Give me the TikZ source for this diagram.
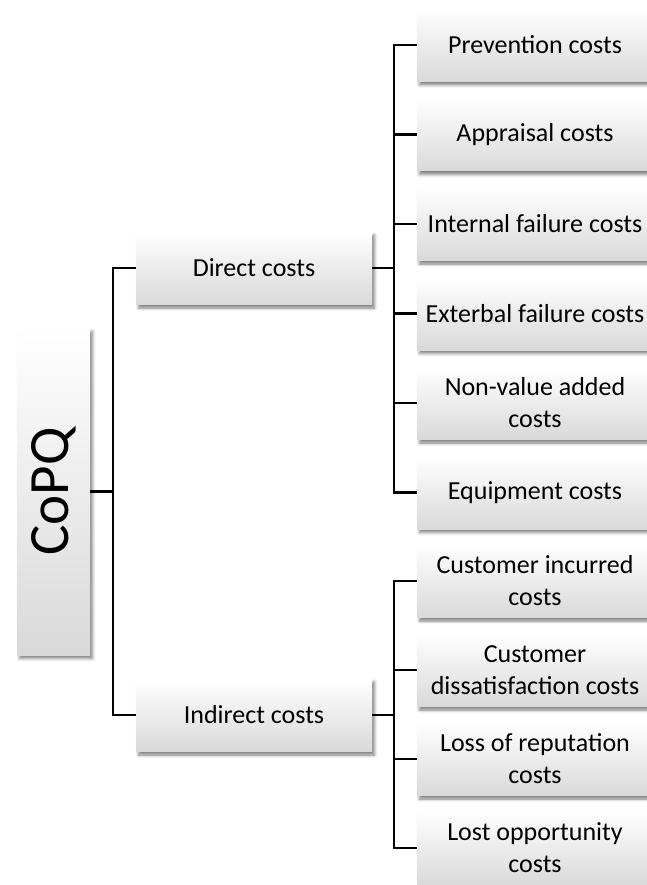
\documentclass[tikz,border=0pt]{standalone}
\usepackage{fontspec}
\setmainfont{Carlito}
\usetikzlibrary{shadows.blur}
\begin{document}
\begin{tikzpicture}[x=1pt,y=-1pt,
  costbox/.style={rectangle, inner sep=2pt, align=center,
    minimum width=236pt, minimum height=73pt,
    top color=white, middle color=white, bottom color=black!15,
    blur shadow={shadow xshift=2.5pt, shadow yshift=-3.5pt,
      shadow blur radius=3pt, shadow opacity=50},
    font=\fontsize{26}{32}\selectfont},
  rootbox/.style={costbox, minimum width=73pt, minimum height=327pt,
    font=\fontsize{57}{60}\selectfont},
  link/.style={draw=black, line width=2.2pt}]
\useasboundingbox (0,0) rectangle (646,885);

% root and first level
\node[rootbox] (copq) at (53.5,491.5) {\rotatebox{90}{CoPQ}};
\node[costbox] (direct) at (254,268) {Direct costs};
\node[costbox] (indirect) at (254,715) {Indirect costs};

% direct cost items
\node[costbox] (prev) at (535,45) {Prevention costs};
\node[costbox] (appr) at (535,134.5) {Appraisal costs};
\node[costbox] (intf) at (535,224) {Internal failure costs};
\node[costbox] (extf) at (535,313.5) {Exterbal failure costs};
\node[costbox] (nva) at (535,403) {Non-value added\\costs};
\node[costbox] (equip) at (535,492.5) {Equipment costs};

% indirect cost items
\node[costbox] (cust) at (535,581) {Customer incurred\\costs};
\node[costbox] (diss) at (535,670) {Customer\\dissatisfaction costs};
\node[costbox] (repu) at (535,759) {Loss of reputation\\costs};
\node[costbox] (lost) at (535,848) {Lost opportunity\\costs};

% elbow connectors
\foreach \c in {direct,indirect}
  \draw[link] (copq.east) -- ++(23,0) |- (\c.west);
\foreach \c in {prev,appr,intf,extf,nva,equip}
  \draw[link] (direct.east) -- ++(22,0) |- (\c.west);
\foreach \c in {cust,diss,repu,lost}
  \draw[link] (indirect.east) -- ++(22,0) |- (\c.west);
\end{tikzpicture}
\end{document}
